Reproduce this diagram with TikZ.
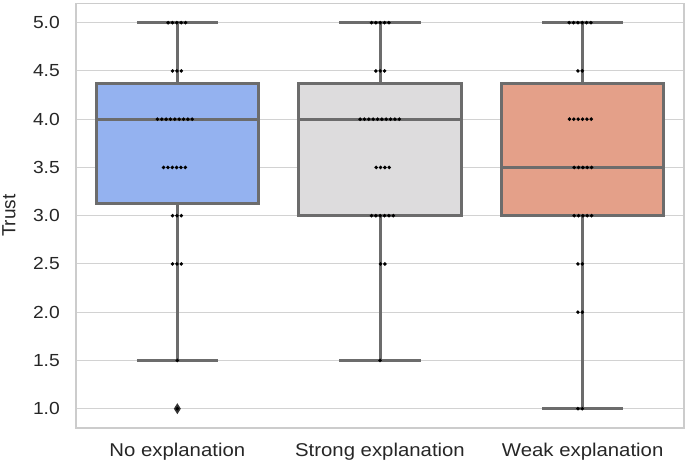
\documentclass[tikz,border=0pt]{standalone}
\usepackage{fontspec}
\setmainfont{Liberation Sans}
\definecolor{boxline}{HTML}{6C6C6C}
\definecolor{gridgray}{HTML}{D2D2D2}
\definecolor{framegray}{HTML}{CCCCCC}
\definecolor{textgray}{HTML}{262626}
\definecolor{fillblue}{RGB}{148,178,240}
\definecolor{fillgray}{RGB}{221,220,221}
\definecolor{fillsalmon}{RGB}{228,160,137}
\definecolor{fliergray}{HTML}{333333}
\newcommand{\mybox}[7]{%
  \draw[boxedge,fill=#7] ({#1-0.4},#2) rectangle ({#1+0.4},#4);
  \draw[boxedge] (#1,#2) -- (#1,#5);
  \draw[boxedge] (#1,#4) -- (#1,#6);
  \draw[boxedge] ({#1-0.2},#5) -- ({#1+0.2},#5);
  \draw[boxedge] ({#1-0.2},#6) -- ({#1+0.2},#6);
  \draw[boxedge] ({#1-0.4},#3) -- ({#1+0.4},#3);
}
\newcommand{\dotrow}[4]{%
  \foreach \i in {1,...,#3}
    \fill[swarmdot] (#1,#2) ++({(#4+(\i-1-(#3-1)/2)*4.35)*1pt},0) circle (1.95pt);
}
\begin{document}
\begin{tikzpicture}[x=202.67pt,y=96.5pt,
  gridline/.style={draw=gridgray,line width=1pt},
  framebox/.style={draw=framegray,line width=1.2pt},
  boxedge/.style={draw=boxline,line width=3pt},
  swarmdot/.style={fill=black},
  ticklabel/.style={font=\fontsize{17.5}{20}\selectfont,text=textgray,anchor=east,inner sep=0pt,xshift=-16pt,xscale=1.1},
  catlabel/.style={font=\fontsize{18.5}{21}\selectfont,text=textgray,anchor=base,inner sep=0pt,xscale=1.1},
]
\useasboundingbox (-0.875,0.4269) rectangle (2.5197,5.2352);
% grid
\foreach \v in {1.0,1.5,2.0,2.5,3.0,3.5,4.0,4.5,5.0}
  \draw[gridline] (-0.5,\v) -- (2.5,\v);
% frame
\draw[framebox] (-0.5,0.8) rectangle (2.5,5.2);
% boxes
\mybox{0}{3.125}{4.0}{4.375}{1.5}{5.0}{fillblue}
\mybox{1}{3.0}{4.0}{4.375}{1.5}{5.0}{fillgray}
\mybox{2}{3.0}{3.5}{4.375}{1.0}{5.0}{fillsalmon}
% outlier
\fill[fliergray] (0,1) ++(0,5.5pt) -- ++(3.5pt,-5.5pt) -- ++(-3.5pt,-5.5pt) -- ++(-3.5pt,5.5pt) -- cycle;
% swarm points: No explanation
\dotrow{0}{5.0}{5}{-0.5}
\dotrow{0}{4.5}{3}{-0.4}
\dotrow{0}{4.0}{9}{-2.5}
\dotrow{0}{3.5}{6}{-2.9}
\dotrow{0}{3.0}{3}{-0.4}
\dotrow{0}{2.5}{3}{-0.4}
\dotrow{0}{1.5}{1}{0}
\dotrow{0}{1.0}{1}{0}
% Strong explanation
\dotrow{1}{5.0}{5}{0.2}
\dotrow{1}{4.5}{3}{0.2}
\dotrow{1}{4.0}{10}{-0.3}
\dotrow{1}{3.5}{4}{2.7}
\dotrow{1}{3.0}{6}{2.4}
\dotrow{1}{2.5}{2}{2.7}
\dotrow{1}{1.5}{1}{0}
% Weak explanation
\dotrow{2}{5.0}{6}{-2.6}
\dotrow{2}{4.5}{2}{-2.6}
\dotrow{2}{4.0}{6}{-2.3}
\dotrow{2}{3.5}{5}{0.2}
\dotrow{2}{3.0}{5}{0.2}
\dotrow{2}{2.5}{2}{-2.6}
\dotrow{2}{2.0}{2}{-2.6}
\dotrow{2}{1.0}{2}{-2.6}
% tick labels
\foreach \v [count=\k] in {1.0,1.5,2.0,2.5,3.0,3.5,4.0,4.5,5.0}
  \node[ticklabel] (ytick\k) at (-0.5,\v) {\v};
% category labels
\node[catlabel] (cat0) at (0,0.5) {No explanation};
\node[catlabel] (cat1) at (1,0.5) {Strong explanation};
\node[catlabel] (cat2) at (2,0.5) {Weak explanation};
% axis label
\node[font=\fontsize{19}{22}\selectfont,text=textgray,rotate=90,inner sep=0pt] (ylab) at (-0.8306,3.0) {Trust};
\end{tikzpicture}
\end{document}
